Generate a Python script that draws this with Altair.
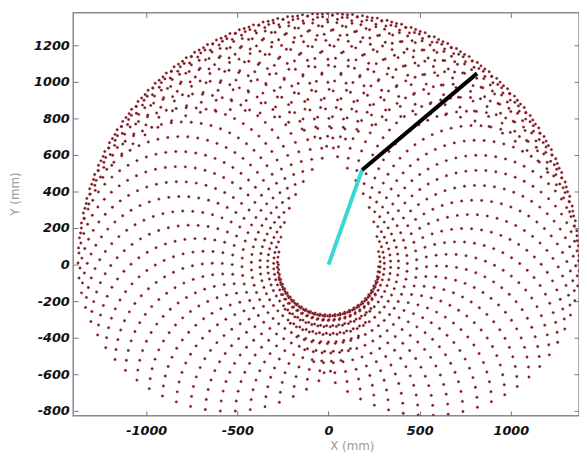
import altair as alt
import pandas as pd
import numpy as np

# Arm geometry (mm)
link1_length = 550
link2_length = 825

# Joint-angle grid (radians) that the workspace dots follow
theta1_rad = [0.0, 0.1, 0.2, 0.3, 0.4, 0.5, 0.6, 0.7, 0.8, 0.9, 1.0, 1.1, 1.2, 1.3,
              1.4, 1.5, 1.6, 1.7, 1.8, 1.9, 2.0, 2.1, 2.2, 2.3, 2.4, 2.5, 2.6, 2.7,
              2.8, 2.9, 3.0, 3.1]
theta2_rad = [-3.1416, -3.0416, -2.9416, -2.8416, -2.7416, -2.6416, -2.5416, -2.4416,
              -2.3416, -2.2416, -2.1416, -2.0416, -1.9416, -1.8416, -1.7416, -1.6416,
              -1.5416, -1.4416, -1.3416, -1.2416, -1.1416, -1.0416, -0.9416, -0.8416,
              -0.7416, -0.6416, -0.5416, -0.4416, -0.3416, -0.2416, -0.1416, -0.0416,
              0.0584, 0.1584, 0.2584, 0.3584, 0.4584, 0.5584, 0.6584, 0.7584, 0.8584,
              0.9584, 1.0584, 1.1584, 1.2584, 1.3584, 1.4584, 1.5584, 1.6584, 1.7584,
              1.8584, 1.9584, 2.0584, 2.1584, 2.2584, 2.3584, 2.4584, 2.5584, 2.6584,
              2.7584, 2.8584, 2.9584, 3.0584]

# Arm pose drawn on top (mm)
arm_x = [0, 184, 184, 815]
arm_y = [0, 518, 518, 1046]
arm_seg = ["link1", "link1", "link2", "link2"]
arm_order = [0, 1, 0, 1]

x_ticks = [-1000, -500, 0, 500, 1000]
y_ticks = [-800, -600, -400, -200, 0, 200, 400, 600, 800, 1000, 1200]

# forward kinematics of the joint grid
t1, t2 = np.meshgrid(np.array(theta1_rad), np.array(theta2_rad))
px = link1_length * np.cos(t1) + link2_length * np.cos(t1 + t2)
py = link1_length * np.sin(t1) + link2_length * np.sin(t1 + t2)
pts_df = pd.DataFrame({"x": px.ravel(), "y": py.ravel()})
arm_df = pd.DataFrame({"x": arm_x, "y": arm_y, "seg": arm_seg, "o": arm_order})

x_scale = alt.Scale(domain=[-1401, 1374], nice=False, zero=False)
y_scale = alt.Scale(domain=[-827, 1378], nice=False, zero=False)

label_expr = "datum.value < 0 ? '-' + abs(datum.value) : '' + datum.value"
lab = dict(labelFont="DejaVu Sans", labelFontStyle="italic", labelFontWeight="bold",
           labelFontSize=13, labelColor="#111111")
tit = dict(titleFont="DejaVu Sans", titleFontWeight="normal", titleColor="#9a9a9a",
           titleFontSize=12)

points = alt.Chart(pts_df).mark_circle(
    size=6, color="#4a2026", stroke="#c8383f", strokeWidth=0.5, opacity=1, clip=True
).encode(
    x=alt.X("x:Q", scale=x_scale,
            axis=alt.Axis(orient="bottom", values=x_ticks, labelExpr=label_expr,
                          offset=-5, tickSize=5, tickColor="#777777", domain=False,
                          grid=False, labelPadding=9, title="X (mm)",
                          titleX=282, titleY=35, titleBaseline="middle",
                          titleAlign="center", **lab, **tit)),
    y=alt.Y("y:Q", scale=y_scale,
            axis=alt.Axis(orient="left", values=y_ticks, labelExpr=label_expr,
                          offset=-5, tickSize=5, tickColor="#777777", domain=False,
                          grid=False, labelPadding=4, title="Y (mm)",
                          titleX=-64, titleY=183, titleBaseline="middle",
                          titleAlign="center", **lab, **tit)),
)

arm = alt.Chart(arm_df).mark_line(strokeWidth=4, clip=True).encode(
    x=alt.X("x:Q", scale=x_scale,
            axis=alt.Axis(orient="top", values=x_ticks, offset=-5, tickSize=5,
                          tickColor="#777777", labels=False, domain=False,
                          grid=False, title=None)),
    y=alt.Y("y:Q", scale=y_scale,
            axis=alt.Axis(orient="right", values=y_ticks, offset=-5, tickSize=5,
                          tickColor="#777777", labels=False, domain=False,
                          grid=False, title=None)),
    color=alt.Color("seg:N", scale=alt.Scale(domain=["link1", "link2"],
                                             range=["#3ad8d0", "#000000"]),
                    legend=None),
    order=alt.Order("o:Q"),
)

chart = alt.layer(points, arm).resolve_axis(
    x="independent", y="independent"
).properties(
    width=512, height=408, autosize="none",
    padding={"left": 66, "top": 2, "right": 0, "bottom": 40},
    background="white",
).configure_view(stroke="#8a8a8a", strokeWidth=1.5)

chart.save("out.html", embed_options={"renderer": "svg", "actions": False})
